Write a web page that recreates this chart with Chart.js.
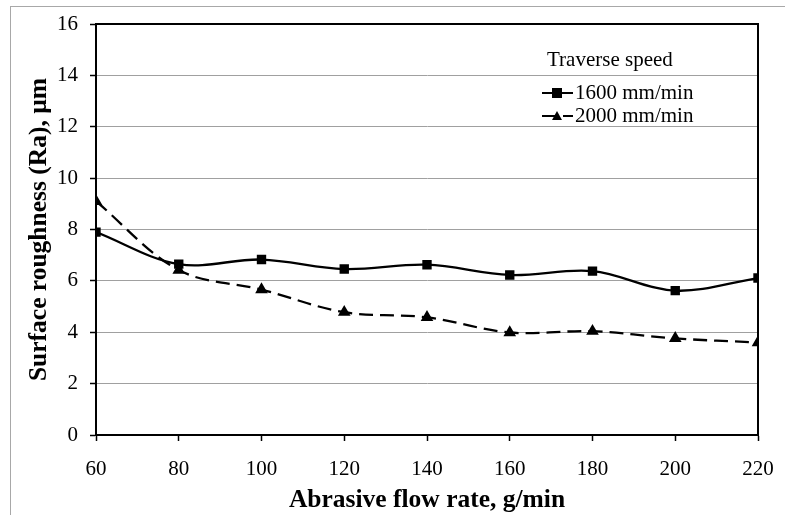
<!DOCTYPE html>
<html>
<head>
<meta charset="utf-8">
<script src="https://cdn.jsdelivr.net/npm/chart.js@4.4.0/dist/chart.umd.min.js"></script>
<style>
  html, body { margin: 0; padding: 0; background: #fff; }
  #wrap { position: relative; width: 785px; height: 515px; overflow: hidden; }
  #frame { position: absolute; left: 10px; top: 6px; width: 800px; height: 600px; border-left: 1px solid #a8a8a8; border-top: 1px solid #a8a8a8; }
  #c { position: absolute; left: 0; top: 0; }
</style>
</head>
<body>
<div id="wrap">
  <div id="frame"></div>
  <canvas id="c" width="785" height="515"></canvas>
</div>
<script>
// abrasive flow rate, g/min
const flowRates = [60, 80, 100, 120, 140, 160, 180, 200, 220];
// Ra, um
const ra1600 = [7.9, 6.65, 6.83, 6.46, 6.63, 6.23, 6.38, 5.62, 6.11];
const ra2000 = [9.1, 6.42, 5.66, 4.78, 4.58, 3.99, 4.04, 3.76, 3.6];
const seriesLabels = ['1600 mm/min', '2000 mm/min'];
const legendTitle = 'Traverse speed';
const xTitle = 'Abrasive flow rate, g/min';
const yTitle = 'Surface roughness (Ra), \u00b5m';

const serif = '"Liberation Serif", "DejaVu Serif", serif';
const toPts = ys => flowRates.map((x, i) => ({ x, y: ys[i] }));

// black frame round the plot area
const frameBox = {
  id: 'frameBox',
  afterDraw(chart) {
    const { ctx, chartArea: a } = chart;
    ctx.save();
    ctx.strokeStyle = '#000';
    ctx.lineWidth = 2;
    ctx.strokeRect(a.left, a.top, a.right - a.left, a.bottom - a.top);
    ctx.restore();
  }
};

// Excel-ish legend inside the plot
const boxLegend = {
  id: 'boxLegend',
  afterDraw(chart) {
    const ctx = chart.ctx;
    ctx.save();
    ctx.fillStyle = '#000';
    ctx.font = '21px ' + serif;
    ctx.textBaseline = 'middle';
    ctx.fillText(legendTitle, 547, 60);
    const rows = [93, 116];
    chart.data.datasets.forEach((ds, i) => {
      const y = rows[i];
      ctx.strokeStyle = '#000';
      ctx.lineWidth = 2;
      ctx.setLineDash(ds.borderDash || []);
      ctx.beginPath();
      ctx.moveTo(542, y);
      ctx.lineTo(573, y);
      ctx.stroke();
      ctx.setLineDash([]);
      ctx.beginPath();
      if (ds.pointStyle === 'rect') {
        ctx.fillRect(552, y - 5, 10, 10);
      } else {
        ctx.moveTo(557, y - 5);
        ctx.lineTo(562, y + 4);
        ctx.lineTo(552, y + 4);
        ctx.closePath();
        ctx.fill();
      }
      ctx.fillText(ds.label, 575, y);
    });
    ctx.restore();
  }
};

new Chart(document.getElementById('c'), {
  type: 'line',
  data: {
    datasets: [
      {
        label: seriesLabels[0],
        data: toPts(ra1600),
        borderColor: '#000',
        backgroundColor: '#000',
        borderWidth: 2.3,
        pointStyle: 'rect',
        pointRadius: 5,
        tension: 0.35
      },
      {
        label: seriesLabels[1],
        data: toPts(ra2000),
        borderColor: '#000',
        backgroundColor: '#000',
        borderWidth: 2.3,
        borderDash: [14, 7],
        pointStyle: 'triangle',
        pointRadius: 5,
        tension: 0.35
      }
    ]
  },
  options: {
    responsive: false,
    animation: false,
    layout: { padding: { left: 0, top: 24, right: 27, bottom: 0 } },
    plugins: { legend: { display: false }, tooltip: { enabled: false } },
    scales: {
      x: {
        type: 'linear',
        min: 60, max: 220,
        afterFit: s => { s.height = 80; s.paddingLeft = 0; s.paddingRight = 0; },
        ticks: { stepSize: 20, color: '#000', padding: 16, font: { family: serif, size: 21 } },
        grid: { drawOnChartArea: false, drawTicks: true, tickLength: 6, tickColor: '#000', tickWidth: 1.5 },
        border: { color: '#000', width: 2 },
        title: { display: true, text: xTitle, color: '#000', padding: { top: 0, bottom: 2 }, font: { family: serif, size: 25.5, weight: 'bold', lineHeight: 1 } }
      },
      y: {
        min: 0, max: 16,
        afterFit: s => { s.width = 96; s.paddingTop = 0; s.paddingBottom = 0; },
        ticks: { stepSize: 2, color: '#000', padding: 12, font: { family: serif, size: 21 } },
        grid: { color: '#a0a0a0', lineWidth: 1, tickLength: 6, tickColor: '#000', tickWidth: 1.5 },
        border: { color: '#000', width: 2 },
        title: { display: true, text: yTitle, color: '#000', padding: { top: 27, bottom: 0 }, font: { family: serif, size: 25.5, weight: 'bold', lineHeight: 1 } }
      }
    }
  },
  plugins: [frameBox, boxLegend]
});
</script>
</body>
</html>
